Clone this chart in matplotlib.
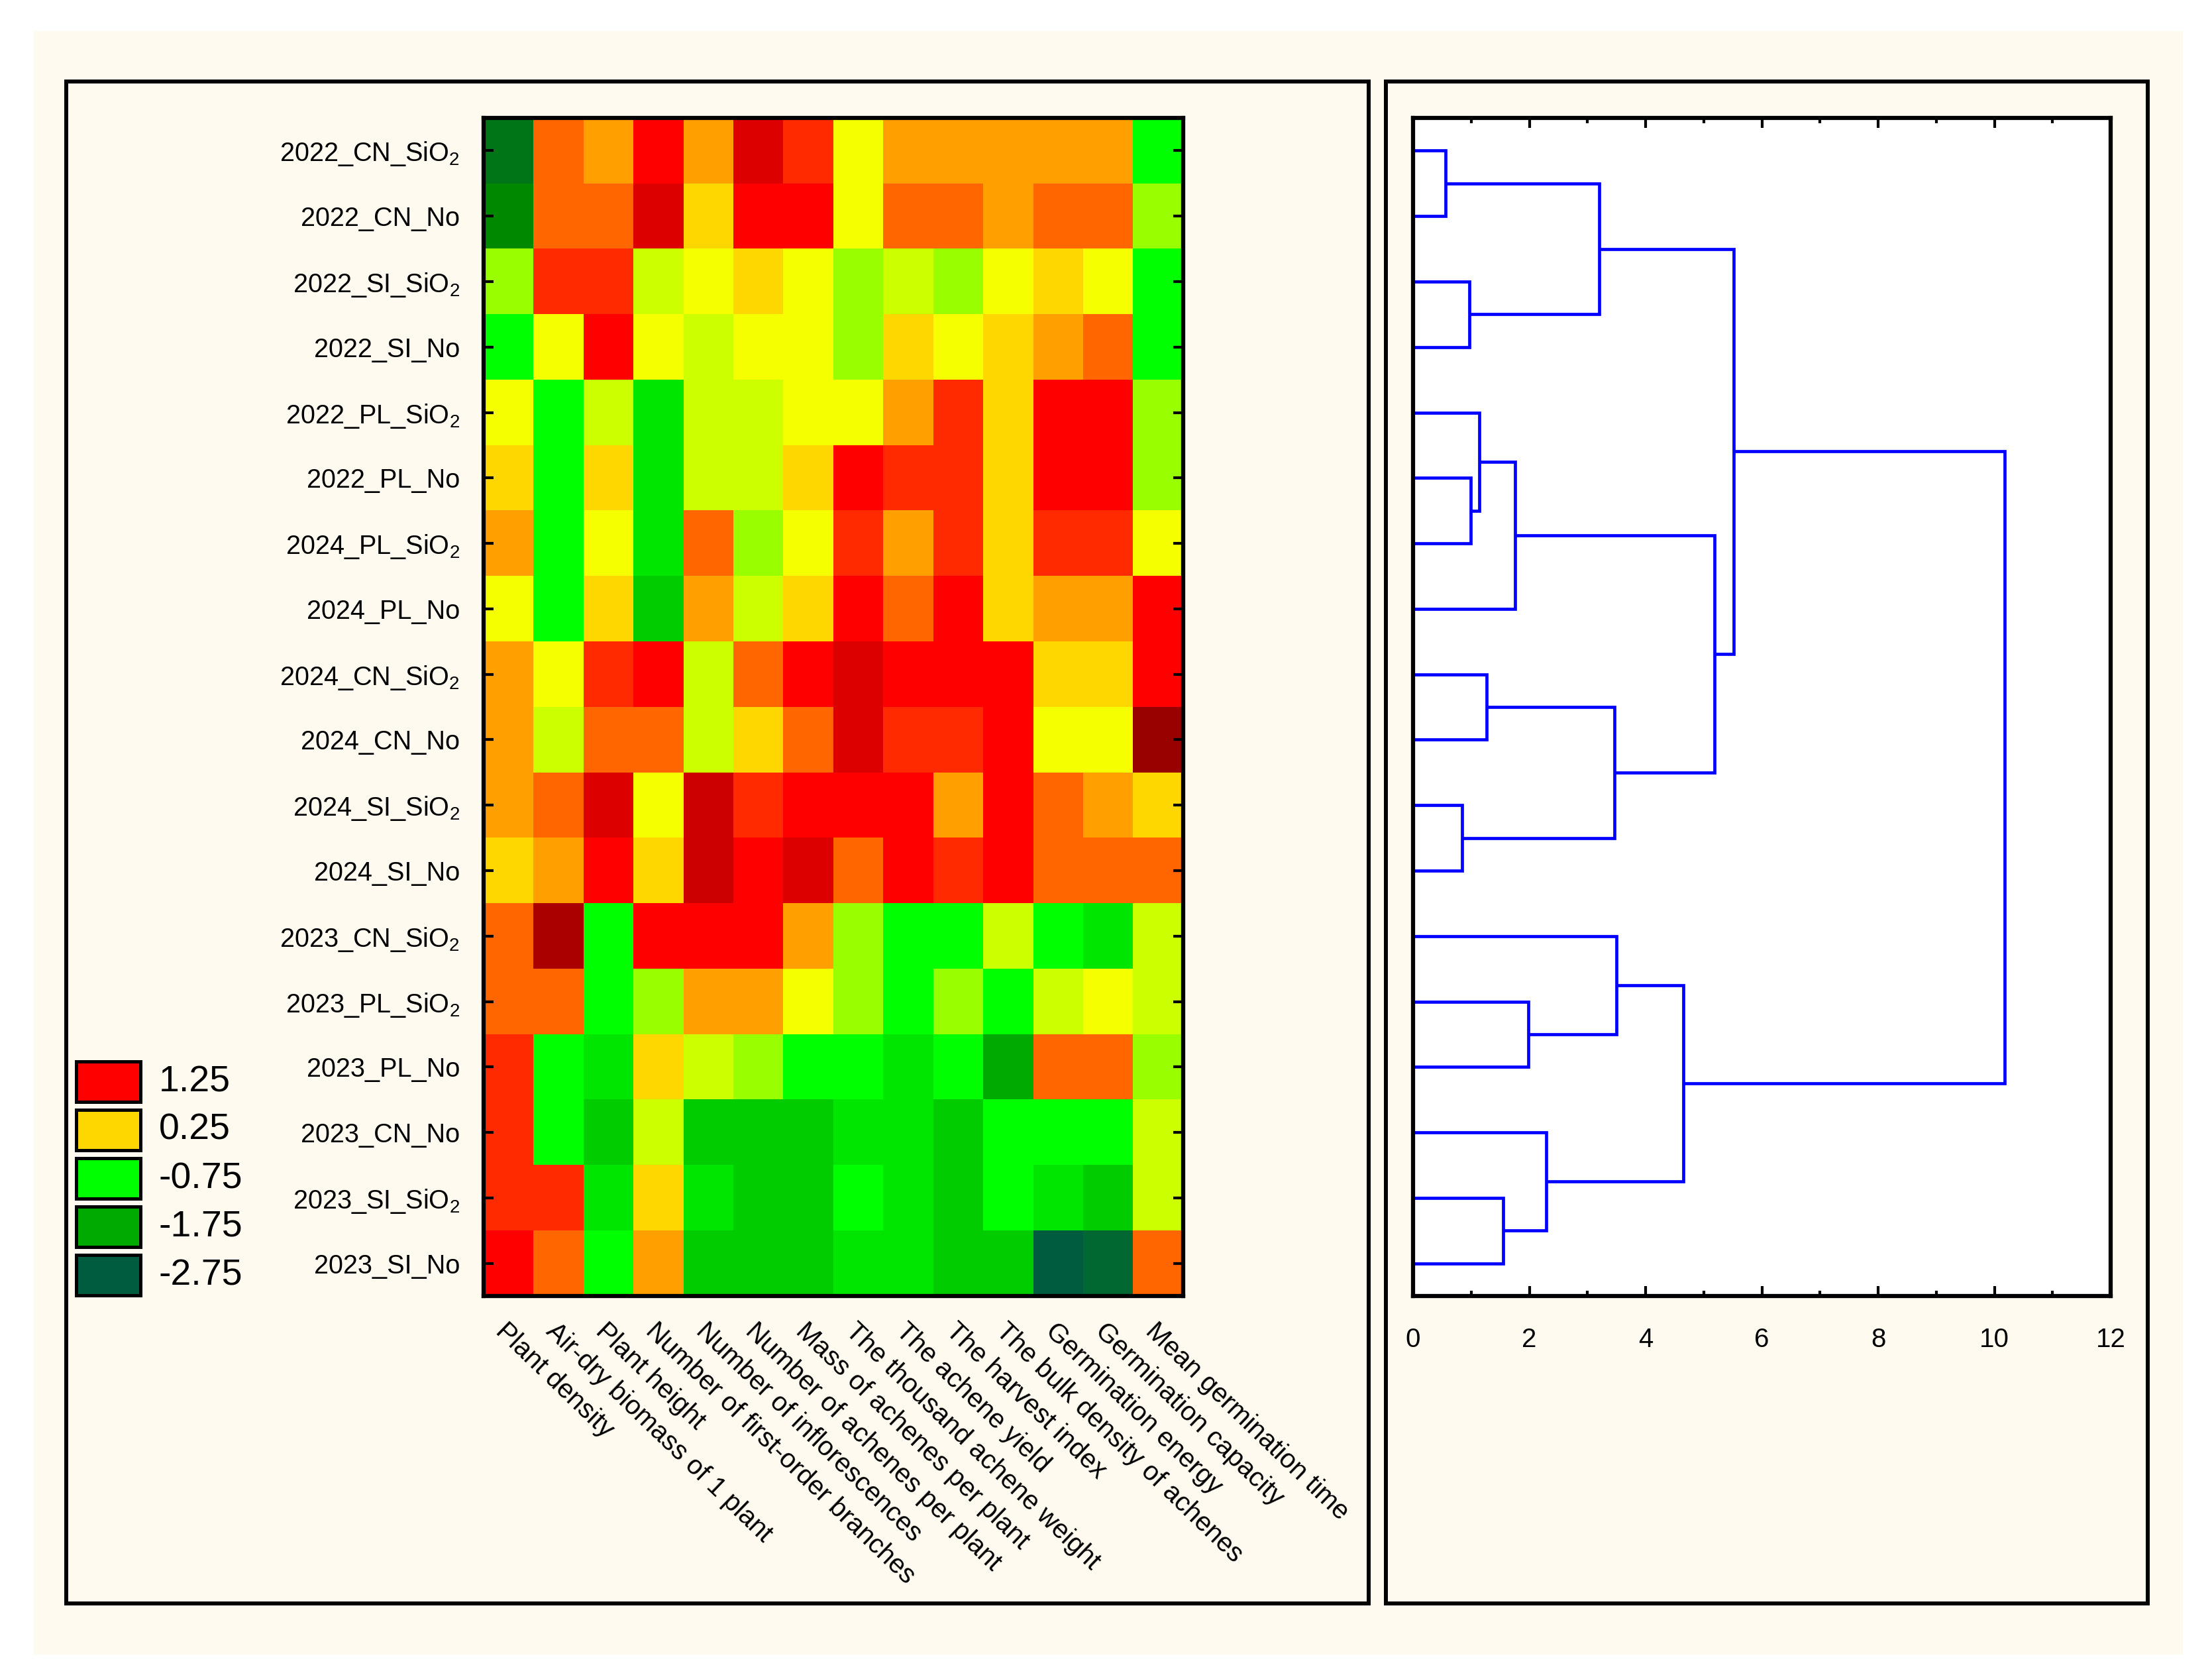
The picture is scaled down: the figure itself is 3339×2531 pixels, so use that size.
import matplotlib
matplotlib.use("Agg")
import matplotlib.pyplot as plt
import numpy as np
from matplotlib.colors import ListedColormap, BoundaryNorm
from matplotlib.patches import Rectangle
from matplotlib.ticker import MultipleLocator

plt.rcParams["font.family"] = ["Liberation Sans", "DejaVu Sans"]
plt.rcParams["mathtext.fontset"] = "custom"
plt.rcParams["mathtext.rm"] = "Liberation Sans"
plt.rcParams["mathtext.it"] = "Liberation Sans"

W, H = 3339, 2531
CREAM = "#FFFAF0"

rows = [
    "2022_CN_SiO$_2$", "2022_CN_No", "2022_SI_SiO$_2$", "2022_SI_No",
    "2022_PL_SiO$_2$", "2022_PL_No", "2024_PL_SiO$_2$", "2024_PL_No",
    "2024_CN_SiO$_2$", "2024_CN_No", "2024_SI_SiO$_2$", "2024_SI_No",
    "2023_CN_SiO$_2$", "2023_PL_SiO$_2$", "2023_PL_No", "2023_CN_No",
    "2023_SI_SiO$_2$", "2023_SI_No",
]
cols = [
    "Plant density", "Air-dry biomass of 1 plant", "Plant height",
    "Number of first-order branches", "Number of inflorescences",
    "Number of achenes per plant", "Mass of achenes per plant",
    "The thousand achene weight", "The achene yield", "The harvest index",
    "The bulk density of achenes", "Germination energy",
    "Germination capacity", "Mean germination time",
]

# standardized values
z = np.array([
    [-2.4, 0.6, 0.4, 1.1, 0.4, 1.4, 0.9, -0.1, 0.4, 0.4, 0.4, 0.4, 0.4, -0.9],
    [-2.1, 0.6, 0.6, 1.4, 0.1, 1.1, 1.1, -0.1, 0.6, 0.6, 0.4, 0.6, 0.6, -0.6],
    [-0.6, 0.9, 0.9, -0.4, -0.1, 0.1, -0.1, -0.6, -0.4, -0.6, -0.1, 0.1, -0.1, -0.9],
    [-0.9, -0.1, 1.1, -0.1, -0.4, -0.1, -0.1, -0.6, 0.1, -0.1, 0.1, 0.4, 0.6, -0.9],
    [-0.1, -0.9, -0.4, -1.1, -0.4, -0.4, -0.1, -0.1, 0.4, 0.9, 0.1, 1.1, 1.1, -0.6],
    [0.1, -0.9, 0.1, -1.1, -0.4, -0.4, 0.1, 1.1, 0.9, 0.9, 0.1, 1.1, 1.1, -0.6],
    [0.4, -0.9, -0.1, -1.1, 0.6, -0.6, -0.1, 0.9, 0.4, 0.9, 0.1, 0.9, 0.9, -0.1],
    [-0.1, -0.9, 0.1, -1.4, 0.4, -0.4, 0.1, 1.1, 0.6, 1.1, 0.1, 0.4, 0.4, 1.1],
    [0.4, -0.1, 0.9, 1.1, -0.4, 0.6, 1.1, 1.4, 1.1, 1.1, 1.1, 0.1, 0.1, 1.1],
    [0.4, -0.4, 0.6, 0.6, -0.4, 0.1, 0.6, 1.4, 0.9, 0.9, 1.1, -0.1, -0.1, 2.1],
    [0.4, 0.6, 1.4, -0.1, 1.6, 0.9, 1.1, 1.1, 1.1, 0.4, 1.1, 0.6, 0.4, 0.1],
    [0.1, 0.4, 1.1, 0.1, 1.6, 1.1, 1.4, 0.6, 1.1, 0.9, 1.1, 0.6, 0.6, 0.6],
    [0.6, 1.9, -0.9, 1.1, 1.1, 1.1, 0.4, -0.6, -0.9, -0.9, -0.4, -0.9, -1.1, -0.4],
    [0.6, 0.6, -0.9, -0.6, 0.4, 0.4, -0.1, -0.6, -0.9, -0.6, -0.9, -0.4, -0.1, -0.4],
    [0.9, -0.9, -1.1, 0.1, -0.4, -0.6, -0.9, -0.9, -1.1, -0.9, -1.9, 0.6, 0.6, -0.6],
    [0.9, -0.9, -1.4, -0.4, -1.4, -1.4, -1.4, -1.1, -1.1, -1.4, -0.9, -0.9, -0.9, -0.4],
    [0.9, 0.9, -1.1, 0.1, -1.1, -1.4, -1.4, -0.9, -1.1, -1.4, -0.9, -1.1, -1.4, -0.4],
    [1.1, 0.6, -0.9, 0.4, -1.4, -1.4, -1.4, -1.1, -1.1, -1.4, -1.4, -2.9, -2.6, 0.6],
])

# contour classes (upper bounds), low -> high
levels = np.arange(-3.0, 2.26, 0.25)
level_colors = [
    "#005C3E", "#006830", "#007518", "#008800", "#00AA00", "#00BB00",
    "#00CC00", "#00E600", "#00FF00", "#99FF00", "#CCFF00", "#F5FF00",
    "#FFD700", "#FF9F00", "#FF6600", "#FF2A00", "#FF0000", "#DD0000",
    "#CC0000", "#AA0000", "#990000",
]

legend_vals = ["1.25", "0.25", "-0.75", "-1.75", "-2.75"]
legend_cols = ["#FF0000", "#FFD700", "#00FF00", "#00AA00", "#005C3E"]

# joins: (child a, child b, distance); leaves 0..17, new nodes from 18
joins = [
    (0, 1, 0.56), (2, 3, 0.97), (18, 19, 3.20), (5, 6, 0.99),
    (4, 21, 1.14), (22, 7, 1.76), (10, 11, 0.84), (8, 9, 1.27),
    (25, 24, 3.47), (23, 26, 5.18), (20, 27, 5.51), (13, 14, 1.98),
    (12, 29, 3.50), (16, 17, 1.55), (15, 31, 2.29), (30, 32, 4.65),
    (28, 33, 10.18),
]


def box(x0, y0, x1, y1):
    return [x0 / W, 1 - y1 / H, (x1 - x0) / W, (y1 - y0) / H]


fig = plt.figure(figsize=(W / 100, H / 100), dpi=100, facecolor="white")


def frame(x0, y0, x1, y1, fc, lw, z=-5):
    b = box(x0, y0, x1, y1)
    fig.patches.append(Rectangle((b[0], b[1]), b[2], b[3], transform=fig.transFigure,
                                 facecolor=fc, edgecolor="black" if lw else "none",
                                 linewidth=lw, zorder=z))


frame(51, 47, 3295, 2497, CREAM, 0, -6)
frame(100, 123, 2066, 2420, CREAM, 4.3)
frame(2092, 123, 3242, 2420, CREAM, 4.3)

# heatmap
ax = fig.add_axes(box(730, 178, 1786, 1956))
cmap = ListedColormap(level_colors)
norm = BoundaryNorm(levels, cmap.N)
ax.imshow(z, cmap=cmap, norm=norm, aspect="auto", interpolation="nearest")
ax.set_xlim(-0.5, len(cols) - 0.5)
ax.set_ylim(len(rows) - 0.5, -0.5)
for s in ax.spines.values():
    s.set_linewidth(4.5)
ax.set_yticks(range(len(rows)))
ax.set_yticklabels(rows, fontsize=28.5)
ax.set_xticks(range(len(cols)))
ax.set_xticklabels(cols, fontsize=29, rotation=-44, ha="left", va="top",
                   rotation_mode="anchor")
ax.set_xticks(range(1, len(cols), 2), minor=True)
ax.tick_params(axis="x", which="major", length=0, pad=24)
ax.tick_params(axis="x", which="minor", direction="in", length=11, width=3,
               top=True, bottom=True)
ax.tick_params(axis="y", direction="in", length=11, width=3, left=True,
               right=True, pad=26)

# legend
for i, (lab, c) in enumerate(zip(legend_vals, legend_cols)):
    y0 = 1602 + i * 73
    frame(115, y0, 212, y0 + 61, c, 3.6, 2)
    fig.text(240 / W, 1 - (y0 + 31) / H, lab, fontsize=40, va="center", ha="left")

# dendrogram
dx = fig.add_axes(box(2133, 178, 3186, 1956), facecolor="white")
pos = {i: (0.0, float(i)) for i in range(len(rows))}
for k, (a, b, d) in enumerate(joins):
    xa, ya = pos[a]
    xb, yb = pos[b]
    dx.plot([xa, d, d, xb], [ya, ya, yb, yb], color="#0000FF", lw=3.4,
            solid_joinstyle="miter", solid_capstyle="butt")
    pos[len(rows) + k] = (d, (ya + yb) / 2)
dx.set_xlim(0, 12)
dx.set_ylim(len(rows) - 0.5, -0.5)
for s in dx.spines.values():
    s.set_linewidth(4.5)
dx.set_yticks([])
dx.xaxis.set_major_locator(MultipleLocator(2))
dx.xaxis.set_minor_locator(MultipleLocator(1))
dx.tick_params(axis="x", which="major", direction="in", length=11, width=3,
               top=True, bottom=True, labelsize=29, pad=34)
dx.tick_params(axis="x", which="minor", direction="in", length=6, width=3,
               top=True, bottom=True)

fig.savefig("out.png", dpi=100, facecolor="white")
